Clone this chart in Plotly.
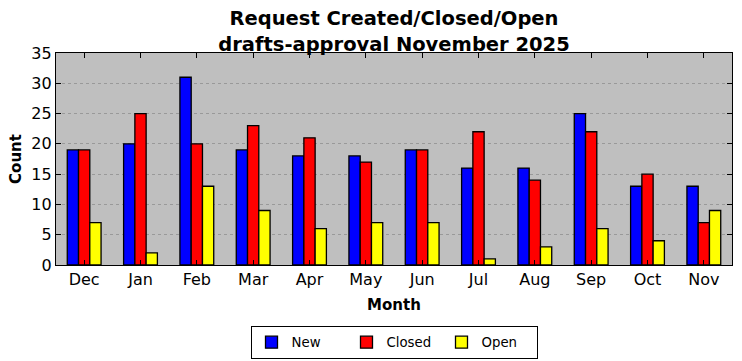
import plotly.graph_objects as go

months = ["Dec", "Jan", "Feb", "Mar", "Apr", "May", "Jun", "Jul", "Aug", "Sep", "Oct", "Nov"]
new_vals = [19, 20, 31, 19, 18, 18, 19, 16, 16, 25, 13, 13]
closed_vals = [19, 25, 20, 23, 21, 17, 19, 22, 14, 22, 15, 7]
open_vals = [7, 2, 13, 9, 6, 7, 7, 1, 3, 6, 4, 9]
y_ticks = [0, 5, 10, 15, 20, 25, 30, 35]

FONT = "DejaVu Sans"

fig = go.Figure()
for name, vals, color in [("New", new_vals, "#0000ff"),
                          ("Closed", closed_vals, "#ff0000"),
                          ("Open", open_vals, "#ffff00")]:
    fig.add_trace(go.Bar(x=months, y=vals, name=name,
                         marker=dict(color=color, line=dict(color="black", width=1.3))))

fig.update_layout(
    width=742, height=361,
    barmode="group", bargap=0.4, bargroupgap=0,
    paper_bgcolor="white", plot_bgcolor="#bfbfbf",
    margin=dict(l=56, r=10, t=53, b=96, autoexpand=False),
    font=dict(family=FONT, color="black", size=16),
    title=dict(text="<b>Request Created/Closed/Open<br>drafts-approval November 2025</b>",
               x=0.5, xref="paper", xanchor="center",
               yref="container", y=0.93, yanchor="middle",
               font=dict(size=19.5, family=FONT)),
    legend=dict(orientation="h", x=0.5, xanchor="center", y=-0.288, yanchor="top",
                bordercolor="black", borderwidth=1, font=dict(size=13.3),
                bgcolor="white", entrywidth=50, itemwidth=30),
    xaxis=dict(type="category", range=[-0.5, 11.5], automargin=False,
               showline=True, linecolor="black", linewidth=1.3, mirror="ticks",
               ticks="inside", ticklen=5, tickcolor="black",
               tickfont=dict(size=16), showgrid=False,
               title=dict(text="<b>Month</b>", font=dict(size=15), standoff=11)),
    yaxis=dict(range=[0, 35], tickvals=y_ticks, automargin=False,
               showline=True, linecolor="black", linewidth=1.3, mirror="ticks",
               ticks="inside", ticklen=5, tickcolor="black",
               tickfont=dict(size=16),
               showgrid=True, gridcolor="#999999", griddash="dot", gridwidth=1,
               zeroline=False,
               title=dict(text="<b>Count</b>", font=dict(size=15), standoff=6)),
)

fig.write_html("out.html", config={"displayModeBar": False},
               post_script="document.body.style.margin='0px';")
